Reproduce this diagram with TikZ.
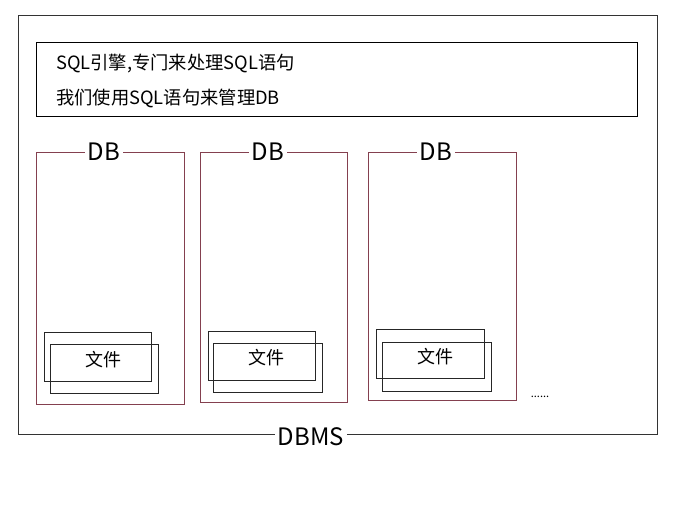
\documentclass[tikz,border=0pt]{standalone}
\usepackage{fontspec}
\setmainfont{Noto Sans CJK SC}
\begin{document}
\begin{tikzpicture}[x=1pt,y=-1pt,
  box/.style={draw, anchor=north west, inner sep=0pt, line width=1.3pt},
  outerbox/.style={box, draw=black!80},
  dbbox/.style={box, draw=dbred},
  filebox/.style={box, draw=black!85},
  txt/.style={anchor=west, font=\fontsize{18.3}{20}\selectfont, inner sep=0pt},
  ftxt/.style={font=\fontsize{18}{20}\selectfont},
  lbl/.style={fill=white, inner sep=3pt, font=\fontsize{24}{26}\selectfont}]
\definecolor{dbred}{HTML}{84404F}
\useasboundingbox (0,0) rectangle (698,504);
% outer DBMS box
\node[outerbox, minimum width=639pt, minimum height=419pt] (dbms) at (18,15) {};
\node[lbl] (dbmslbl) at (311,437) {DBMS};
% SQL engine box
\node[box, minimum width=601pt, minimum height=74pt] (sql) at (36,42) {};
\node[txt] (l1) at (56,64) {SQL引擎,专门来处理SQL语句};
\node[txt] (l2) at (56,98) {我们使用SQL语句来管理DB};
% DB boxes
\node[dbbox, minimum width=148pt, minimum height=252pt] (db1) at (36,152) {};
\node[dbbox, minimum width=147pt, minimum height=250pt] (db2) at (200,152) {};
\node[dbbox, minimum width=148pt, minimum height=248pt] (db3) at (368,152) {};
\node[lbl] (db1l) at (104,152) {DB};
\node[lbl] (db2l) at (268,152) {DB};
\node[lbl] (db3l) at (436,152) {DB};
% file boxes
\node[filebox, minimum width=107pt, minimum height=49pt] (f1b) at (44,332) {};
\node[filebox, minimum width=108pt, minimum height=49pt] (f1) at (50,344) {};
\node[ftxt] (t1) at (103,360) {文件};
\node[filebox, minimum width=107pt, minimum height=49pt] (f2b) at (208,331) {};
\node[filebox, minimum width=109pt, minimum height=49pt] (f2) at (213,343) {};
\node[ftxt] (t2) at (266,358) {文件};
\node[filebox, minimum width=108pt, minimum height=49pt] (f3b) at (376,329) {};
\node[filebox, minimum width=109pt, minimum height=49pt] (f3) at (382,342) {};
\node[ftxt] (t3) at (435,357) {文件};
% dots
\node[font=\fontsize{11}{12}\selectfont, inner sep=0pt] (dots) at (540,397) {......};
\end{tikzpicture}
\end{document}
